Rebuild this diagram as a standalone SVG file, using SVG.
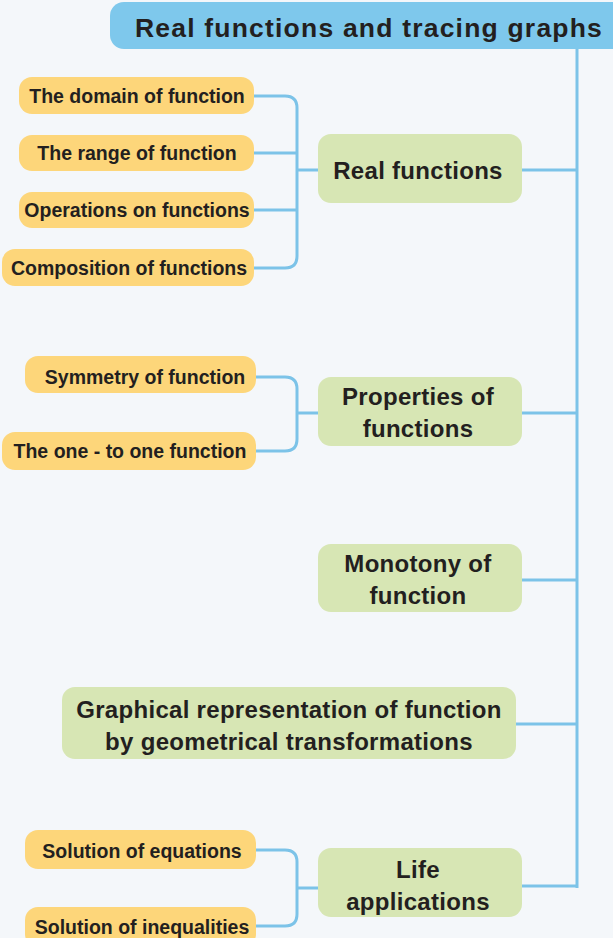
<svg xmlns="http://www.w3.org/2000/svg" width="613" height="938" viewBox="0 0 613 938">
<style>
.bg{fill:#F4F7FA}
.leaf{fill:#FDD67A}
.topic{fill:#D7E6B4}
.title{fill:#7EC8EC}
.t{font-family:"Liberation Sans",Arial,sans-serif;font-weight:bold;fill:#231F20;text-anchor:middle}
.ts{font-size:19.5px}
.tm{font-size:24px;letter-spacing:0.3px}
.tl{font-size:26.5px;letter-spacing:1.2px}
.c{fill:none;stroke:#7CC3E8;stroke-width:3;stroke-linecap:butt}
</style>
<rect class="bg" x="0" y="0" width="613" height="938"/>
<g id="connectors">
<path class="c" d="M577 49 V888"/>
<path class="c" d="M522 170 H577"/>
<path class="c" d="M522 413 H577"/>
<path class="c" d="M522 580 H577"/>
<path class="c" d="M516 724 H577"/>
<path class="c" d="M522 886 H577"/>
<path class="c" d="M254 96 H285 Q297 96 297 108 V256 Q297 268 285 268 H254"/>
<path class="c" d="M254 153 H297"/>
<path class="c" d="M254 210 H297"/>
<path class="c" d="M297 170 H318"/>
<path class="c" d="M256 377 H285 Q297 377 297 389 V439 Q297 451 285 451 H256"/>
<path class="c" d="M297 413 H318"/>
<path class="c" d="M256 850 H285 Q297 850 297 862 V914 Q297 926 285 926 H256"/>
<path class="c" d="M297 888 H318"/>
</g>
<g id="title">
<rect class="title" x="110" y="2" width="520" height="47" rx="14"/>
<text class="t tl" x="369" y="37">Real functions and tracing graphs</text>
</g>
<g id="domain">
<rect class="leaf" x="19" y="77" width="235" height="37" rx="13"/>
<text class="t ts" x="137" y="103">The domain of function</text>
</g>
<g id="range">
<rect class="leaf" x="19" y="135" width="235" height="36" rx="13"/>
<text class="t ts" x="137" y="160">The range of function</text>
</g>
<g id="operations">
<rect class="leaf" x="19" y="192" width="235" height="36" rx="13"/>
<text class="t ts" x="137" y="217">Operations on functions</text>
</g>
<g id="composition">
<rect class="leaf" x="2" y="249" width="252" height="37" rx="13"/>
<text class="t ts" x="129" y="275">Composition of functions</text>
</g>
<g id="real-functions">
<rect class="topic" x="318" y="134" width="204" height="69" rx="13"/>
<text class="t tm" x="418" y="179">Real functions</text>
</g>
<g id="symmetry">
<rect class="leaf" x="25" y="356" width="231" height="37" rx="13"/>
<text class="t ts" x="145" y="384">Symmetry of function</text>
</g>
<g id="one-to-one">
<rect class="leaf" x="2" y="432" width="254" height="38" rx="13"/>
<text class="t ts" x="130" y="458">The one - to one function</text>
</g>
<g id="properties">
<rect class="topic" x="318" y="377" width="204" height="69" rx="13"/>
<text class="t tm" x="418" y="405">Properties of</text>
<text class="t tm" x="418" y="437">functions</text>
</g>
<g id="monotony">
<rect class="topic" x="318" y="544" width="204" height="68" rx="13"/>
<text class="t tm" x="418" y="572">Monotony of</text>
<text class="t tm" x="418" y="604">function</text>
</g>
<g id="graphical">
<rect class="topic" x="62" y="687" width="454" height="72" rx="13"/>
<text class="t tm" x="289" y="718">Graphical representation of function</text>
<text class="t tm" x="289" y="750">by geometrical transformations</text>
</g>
<g id="equations">
<rect class="leaf" x="25" y="830" width="231" height="39" rx="13"/>
<text class="t ts" x="142" y="858">Solution of equations</text>
</g>
<g id="inequalities">
<rect class="leaf" x="25" y="907" width="231" height="40" rx="13"/>
<text class="t ts" x="142" y="934">Solution of inequalities</text>
</g>
<g id="life">
<rect class="topic" x="318" y="848" width="204" height="69" rx="13"/>
<text class="t tm" x="418" y="878">Life</text>
<text class="t tm" x="418" y="910">applications</text>
</g>
</svg>
